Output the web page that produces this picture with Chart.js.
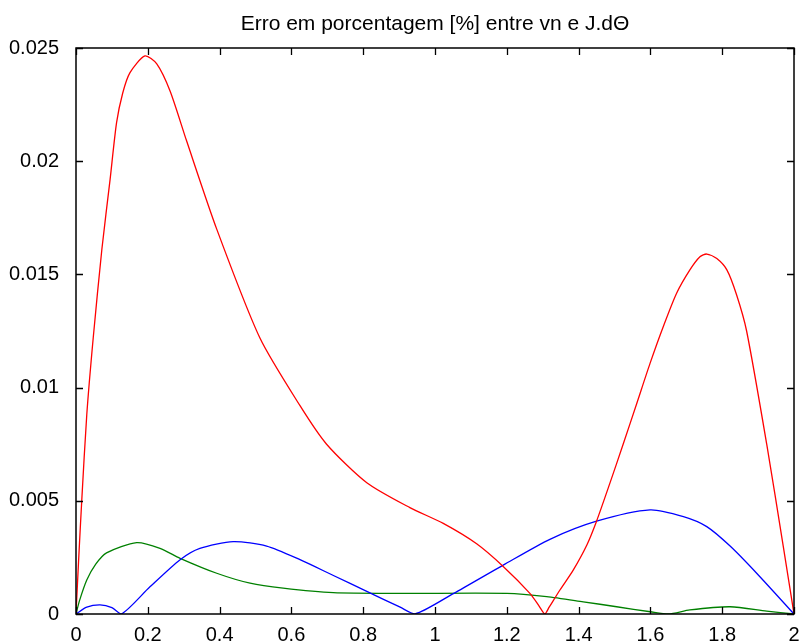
<!DOCTYPE html>
<html>
<head>
<meta charset="utf-8">
<script src="https://cdn.jsdelivr.net/npm/chart.js@4.4.0/dist/chart.umd.min.js"></script>
<style>
  html, body { margin: 0; padding: 0; background: #fff; }
  #wrap { width: 802px; height: 643px; }
</style>
</head>
<body>
<div id="wrap"><canvas id="errChart" width="802" height="643"></canvas></div>
<script>
  const chartTitle = "Erro em porcentagem [%] entre vn e J.dΘ";

  const xTicks = [0, 0.2, 0.4, 0.6, 0.8, 1, 1.2, 1.4, 1.6, 1.8, 2];
  const yTicks = [0, 0.005, 0.01, 0.015, 0.02, 0.025];

  // red curve
  const redX = [0, 0.008, 0.016, 0.03, 0.048, 0.072, 0.095, 0.113, 0.13, 0.15, 0.192, 0.225, 0.262, 0.308, 0.392, 0.512,
    0.624, 0.698, 0.81, 0.93, 1.023, 1.116, 1.19, 1.265, 1.29, 1.306, 1.318, 1.348, 1.385, 1.423, 1.45, 1.487,
    1.525, 1.562, 1.599, 1.636, 1.673, 1.71, 1.738, 1.757, 1.785, 1.813, 1.84, 1.868, 1.924, 1.97, 2];
  const redY = [0, 0.0026, 0.005, 0.0088, 0.0122, 0.0161, 0.0192, 0.0217, 0.023, 0.0239, 0.02465, 0.0243, 0.0231, 0.0209, 0.017, 0.0122,
    0.0092, 0.0075, 0.0058, 0.0047, 0.004, 0.0031, 0.0021, 0.0009, 0.00035, 0, 0.0003, 0.00106, 0.00194, 0.00305, 0.0041, 0.00577,
    0.00754, 0.0093, 0.01107, 0.0127, 0.01417, 0.0152, 0.01578, 0.0159, 0.0157, 0.0152, 0.0141, 0.0125, 0.0075, 0.003, 0];

  // blue curve
  const blueX = [0, 0.03, 0.067, 0.1, 0.127, 0.206, 0.29, 0.345, 0.438, 0.531, 0.624, 0.717, 0.81, 0.903, 0.944,
    1.051, 1.19, 1.32, 1.45, 1.599, 1.692, 1.757, 1.822, 1.896, 2];
  const blueY = [0, 0.0003, 0.0004, 0.00028, 0, 0.0012, 0.0024, 0.0029, 0.0032, 0.003, 0.0024, 0.0017, 0.001, 0.0003, 0,
    0.0009, 0.00216, 0.0033, 0.0041, 0.0046, 0.0043, 0.00386, 0.003, 0.0018, 0];

  // green curve
  const greenX = [0, 0.01, 0.03, 0.055, 0.085, 0.169, 0.234, 0.29, 0.392, 0.485, 0.577, 0.717, 0.903, 1.2, 1.311, 1.413,
    1.506, 1.6, 1.65, 1.71, 1.822, 1.924, 2];
  const greenY = [0, 0.0006, 0.0015, 0.0022, 0.0027, 0.00315, 0.0029, 0.00246, 0.0018, 0.00136, 0.00114, 0.00094, 0.00091, 0.00091, 0.00077, 0.00054,
    0.00032, 0.0001, 0, 0.00018, 0.00032, 0.00013, 0];

  function pts(xs, ys) {
    return xs.map((x, i) => ({ x: x, y: ys[i] }));
  }

  const fontFam = "'Liberation Sans', Arial, sans-serif";

  // matlab-style box with inward ticks + title over the plot area
  const axesBox = {
    id: "axesBox",
    afterDraw(chart) {
      const { ctx, chartArea: a, scales } = chart;
      const tl = 7;
      ctx.save();
      ctx.strokeStyle = "#000";
      ctx.lineWidth = 1.5;
      ctx.strokeRect(a.left, a.top, a.right - a.left, a.bottom - a.top);
      ctx.lineWidth = 1.3;
      ctx.beginPath();
      xTicks.forEach(v => {
        const px = Math.round(scales.x.getPixelForValue(v)) + 0.5;
        ctx.moveTo(px, a.bottom); ctx.lineTo(px, a.bottom - tl);
        ctx.moveTo(px, a.top); ctx.lineTo(px, a.top + tl);
      });
      yTicks.forEach(v => {
        const py = Math.round(scales.y.getPixelForValue(v)) + 0.5;
        ctx.moveTo(a.left, py); ctx.lineTo(a.left + tl, py);
        ctx.moveTo(a.right, py); ctx.lineTo(a.right - tl, py);
      });
      ctx.stroke();
      ctx.fillStyle = "#000";
      ctx.font = "21px " + fontFam;
      ctx.textAlign = "center";
      ctx.textBaseline = "middle";
      ctx.fillText(chartTitle, (a.left + a.right) / 2, 24);
      ctx.restore();
    }
  };

  const ctx = document.getElementById("errChart").getContext("2d");
  const lineStyle = { borderWidth: 1.3, pointRadius: 0, fill: false, tension: 0.25 };

  new Chart(ctx, {
    type: "line",
    data: {
      datasets: [
        Object.assign({ label: "red", data: pts(redX, redY), borderColor: "#ff0000" }, lineStyle),
        Object.assign({ label: "blue", data: pts(blueX, blueY), borderColor: "#0000ff" }, lineStyle),
        Object.assign({ label: "green", data: pts(greenX, greenY), borderColor: "#008000" }, lineStyle),
      ],
    },
    options: {
      responsive: false,
      animation: false,
      layout: { padding: { top: 48, right: 8, left: 0, bottom: 0 } },
      plugins: { legend: { display: false }, tooltip: { enabled: false }, title: { display: false } },
      scales: {
        x: {
          type: "linear",
          min: 0,
          max: 2,
          grid: { display: false },
          border: { display: false },
          afterBuildTicks: s => { s.ticks = xTicks.map(v => ({ value: v })); },
          afterFit: s => { s.height = 29; },
          ticks: { color: "#000", font: { size: 20, family: fontFam }, padding: 1, maxRotation: 0,
            callback: v => String(v) },
        },
        y: {
          min: 0,
          max: 0.025,
          grid: { display: false },
          border: { display: false },
          afterBuildTicks: s => { s.ticks = yTicks.map(v => ({ value: v })); },
          afterFit: s => { s.width = 76; },
          ticks: { color: "#000", font: { size: 20, family: fontFam }, padding: 9,
            callback: v => String(v) },
        },
      },
    },
    plugins: [axesBox],
  });
</script>
</body>
</html>
